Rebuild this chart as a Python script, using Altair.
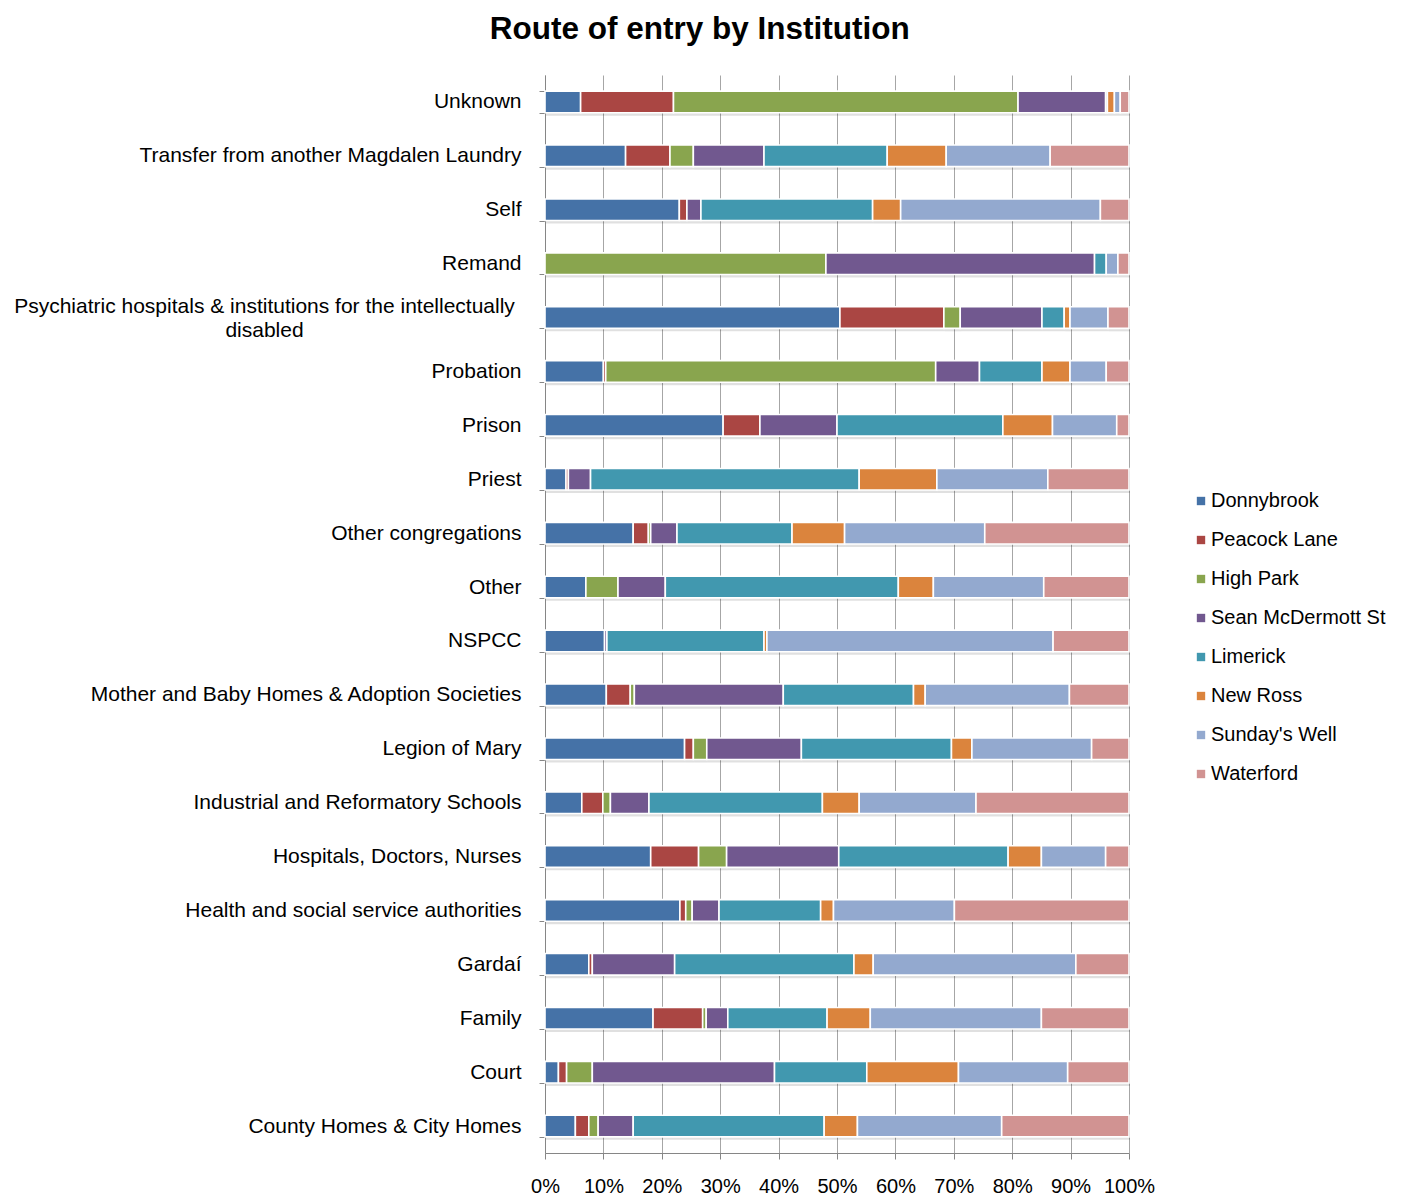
import altair as alt
import pandas as pd

categories = [
    "Unknown",
    "Transfer from another Magdalen Laundry",
    "Self",
    "Remand",
    "Psychiatric hospitals & institutions for the intellectually disabled",
    "Probation",
    "Prison",
    "Priest",
    "Other congregations",
    "Other",
    "NSPCC",
    "Mother and Baby Homes & Adoption Societies",
    "Legion of Mary",
    "Industrial and Reformatory Schools",
    "Hospitals, Doctors, Nurses",
    "Health and social service authorities",
    "Gardaí",
    "Family",
    "Court",
    "County Homes & City Homes",
]

institutions = ["Donnybrook", "Peacock Lane", "High Park", "Sean McDermott St",
                "Limerick", "New Ross", "Sunday's Well", "Waterford"]
colors = ["#4572A7", "#AA4643", "#89A54E", "#71588F",
          "#4198AF", "#DB843D", "#93A9CF", "#D19392"]

donnybrook = [6.1, 13.8, 23.0, 0, 50.5, 10.0, 30.5, 3.6, 15.1, 7.0, 10.2, 10.5, 23.9, 6.3, 18.1, 23.1, 7.5, 18.5, 2.3, 5.2]
peacock_lane = [15.9, 7.6, 1.3, 0, 17.8, 0.4, 6.3, 0.4, 2.6, 0, 0, 4.1, 1.5, 3.6, 8.2, 1.0, 0.6, 8.5, 1.4, 2.3]
high_park = [59.0, 4.0, 0, 48.1, 2.8, 56.5, 0, 0, 0.4, 5.5, 0, 0.7, 2.3, 1.3, 4.8, 1.1, 0, 0.6, 4.4, 1.6]
sean_mcdermott = [15.0, 12.1, 2.4, 46.0, 14.0, 7.5, 13.2, 3.8, 4.5, 8.1, 0.4, 25.5, 16.2, 6.6, 19.2, 4.6, 14.1, 3.7, 31.2, 6.0]
limerick = [0.3, 21.1, 29.4, 2.0, 3.8, 10.7, 28.4, 46.0, 19.7, 39.9, 26.9, 22.3, 25.7, 29.7, 29.0, 17.4, 30.7, 17.0, 15.8, 32.7]
new_ross = [1.2, 10.1, 4.8, 0, 1.0, 4.8, 8.5, 13.3, 9.0, 6.0, 0.5, 2.0, 3.5, 6.3, 5.7, 2.2, 3.3, 7.4, 15.7, 5.7]
sundays_well = [1.0, 17.8, 34.2, 2.0, 6.5, 6.2, 11.0, 19.0, 24.0, 18.9, 49.0, 24.7, 20.5, 20.0, 11.0, 20.7, 34.7, 29.3, 18.7, 24.7]
waterford = [1.5, 13.5, 4.9, 1.9, 3.6, 3.9, 2.1, 13.9, 24.7, 14.6, 13.0, 10.2, 6.4, 26.2, 4.0, 29.9, 9.1, 15.0, 10.5, 21.8]

series = [donnybrook, peacock_lane, high_park, sean_mcdermott,
          limerick, new_ross, sundays_well, waterford]

rows = []
for i, (inst, vals) in enumerate(zip(institutions, series)):
    for cat, v in zip(categories, vals):
        if v > 0:
            rows.append({"category": cat, "institution": inst, "value": v, "idx": i})
df = pd.DataFrame(rows)

PSY = "Psychiatric hospitals & institutions for the intellectually disabled"
IS_PSY = "datum.value == '" + PSY + "'"
label_expr = ("datum.value == '" + PSY + "' ? ['Psychiatric hospitals & institutions for the intellectually', 'disabled'] : datum.value")

y_enc = alt.Y(
    "category:N",
    sort=categories,
    title=None,
    scale=alt.Scale(paddingInner=0.6, paddingOuter=0.3),
    axis=alt.Axis(
        labelExpr=label_expr,
        labelFont="Liberation Sans",
        labelFontSize=21,
        labelColor="#000000",
        labelLimit=700,
        labelLineHeight=24,
        labelAlign={"condition": {"test": IS_PSY, "value": "center"}, "value": "right"},
        labelPadding={"condition": {"test": IS_PSY, "value": 275}, "value": 18},
        labelOffset={"condition": {"test": IS_PSY, "value": -11}, "value": 0},
        tickBand="extent",
        tickSize=6,
        tickColor="#868686",
        domainColor="#868686",
        grid=False,
    ),
)

x_enc = alt.X(
    "value:Q",
    stack="normalize",
    title=None,
    scale=alt.Scale(domain=[0, 1], nice=False),
    axis=alt.Axis(
        format=".0%",
        values=[0, 0.1, 0.2, 0.3, 0.4, 0.5, 0.6, 0.7, 0.8, 0.9, 1.0],
        labelFont="Liberation Sans",
        labelFontSize=20,
        labelColor="#000000",
        labelPadding=17,
        labelFlush=False,
        tickSize=6,
        tickColor="#868686",
        domainColor="#868686",
        grid=True,
        gridColor="#A6A6A6",
        gridWidth=1,
    ),
)

shadow = alt.Chart(df).mark_bar(
    color="#000000", opacity=0.12, yOffset=3, xOffset=1
).encode(
    x=x_enc,
    y=y_enc,
    detail="institution:N",
    order=alt.Order("idx:Q"),
)

bars = alt.Chart(df).mark_bar(
    stroke="white", strokeWidth=1.6
).encode(
    x=x_enc,
    y=y_enc,
    color=alt.Color(
        "institution:N",
        sort=institutions,
        scale=alt.Scale(domain=institutions, range=colors),
        legend=alt.Legend(
            title=None,
            orient="none",
            legendX=646,
            legendY=416,
            symbolType="square",
            symbolSize=70,
            symbolStrokeWidth=0,
            labelFont="Liberation Sans",
            labelFontSize=20,
            labelColor="#000000",
            labelOffset=0,
            rowPadding=19,
            labelLimit=300,
        ),
    ),
    order=alt.Order("idx:Q"),
    tooltip=["category:N", "institution:N", "value:Q"],
)

chart = alt.layer(shadow, bars).properties(
    width=584,
    height=1078,
    padding={"left": 5, "top": 5, "right": 5, "bottom": 0},
    background="white",
    title=alt.TitleParams(
        "Route of entry by Institution",
        font="Liberation Sans",
        fontSize=31.5,
        fontWeight="bold",
        color="#000000",
        anchor="middle",
        frame="bounds",
        offset=19,
    ),
).configure_view(stroke=None)

chart.save("out.html", embed_options={"renderer": "svg", "actions": False})
